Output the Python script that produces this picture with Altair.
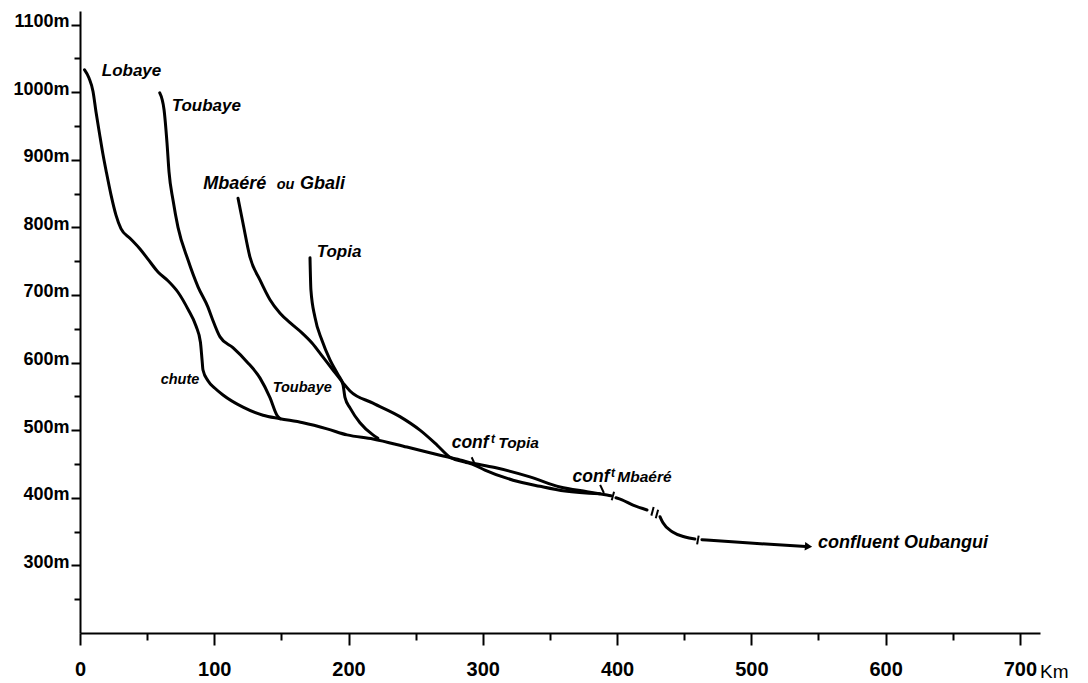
import altair as alt
import pandas as pd

# ---------------- data (km from Lobaye source, altitude in m) ----------------
# Lobaye: main river, drawn in four pieces separated by break marks
lobaye_1_km = [3.4, 6.7, 9.7, 11.9, 14.5, 17.1, 19.7, 23.1, 26.8, 30.5, 37.2, 44.7, 50.6,
               58.1, 65.5, 73.0, 80.4, 86.4, 89.7, 90.9, 91.6, 95.3, 100.5, 106.5, 121.4,
               136.3, 149.0, 166.1, 184.0, 198.9, 218.2, 243.5, 268.1, 283.0, 292.7, 310.6,
               335.1, 357.5, 377.6, 392.5, 395.5]
lobaye_1_m = [1033, 1021, 1001, 971, 939, 908, 881, 848, 818, 798, 784, 768, 753,
              734, 721, 704, 679, 654, 630, 604, 589, 573, 562, 552, 534,
              522, 517, 511, 502, 493, 487, 475, 463, 456, 451, 444,
              431, 416, 409, 404, 403]
lobaye_2_km = [399.2, 403.7, 411.9, 422.3]
lobaye_2_m = [400, 397, 389, 382]
lobaye_3_km = [432.0, 434.2, 441.7, 450.6, 458.0]
lobaye_3_m = [372, 363, 349, 342, 339]
lobaye_4_km = [463.2, 499.0, 540.7]
lobaye_4_m = [338, 333, 328]

toubaye_km = [59.4, 62.6, 64.8, 66.3, 69.3, 73.0, 80.4, 87.9, 95.3, 98.3, 104.3, 113.9,
              124.4, 134.1, 141.5, 146.7, 149.0]
toubaye_m = [999, 974, 925, 882, 840, 800, 752, 712, 682, 666, 638, 622,
             601, 577, 548, 522, 517]

mbaere_km = [117.7, 121.4, 126.6, 134.1, 141.5, 149.0, 156.4, 165.3, 172.8, 181.0, 188.4,
             195.9, 201.1, 218.2, 238.3, 253.2, 265.9, 275.6, 286.7, 294.2, 301.6, 322.5,
             342.6, 361.2, 387.3]
mbaere_m = [843, 806, 756, 722, 693, 673, 659, 644, 629, 608, 589,
            570, 558, 540, 520, 500, 478, 460, 453, 448, 441, 426,
            417, 410, 406]

topia_km = [171.3, 172.0, 175.0, 180.2, 186.2, 192.2, 195.9, 197.4, 201.1, 208.5, 218.2, 221.9]
topia_m = [755, 707, 667, 633, 604, 582, 567, 548, 533, 511, 493, 488]

# break / confluence marks on the profiles
mark_km = [396.9, 426.4, 429.7, 460.2, 293.1, 388.8]
mark_m = [402.6, 380, 376, 337.5, 454, 413]
mark_ang = [15, 15, 15, 10, 335, 335]

# arrow head at the Oubangui confluence
arrow_km = [542.6]
arrow_m = [328]

# labels
big_text = ["Lobaye", "Toubaye", "Topia"]
big_km = [16.2, 68.3, 176.3]
big_m = [1024, 972.5, 756.5]

large_text = ["Mbaéré", "Gbali", "confluent Oubangui"]
large_km = [91.8, 163.9, 549.6]
large_m = [856, 856, 325.7]

small_text = ["chute", "Toubaye", "ou"]
small_km = [60.1, 143.5, 146.5]
small_m = [568.3, 556.9, 856]

conf_text = ["conf", "conf"]
conf_km = [276.8, 366.9]
conf_m = [473.6, 423.8]

trib_text = ["Topia", "Mbaéré"]
trib_km = [311.5, 400.2]
trib_m = [473.6, 423.8]

sup_text = ["t", "t"]
sup_km = [306.1, 395.5]
sup_m = [481, 431.2]

unit_text = ["Km"]
unit_km = [715]
unit_m = [133.4]

x_ticks = list(range(0, 701, 50))
y_ticks = list(range(250, 1101, 50))

# ---------------- tables ----------------
rows = []
for name, ks, ms in [("lobaye1", lobaye_1_km, lobaye_1_m), ("lobaye2", lobaye_2_km, lobaye_2_m),
                     ("lobaye3", lobaye_3_km, lobaye_3_m), ("lobaye4", lobaye_4_km, lobaye_4_m),
                     ("toubaye", toubaye_km, toubaye_m), ("mbaere", mbaere_km, mbaere_m),
                     ("topia", topia_km, topia_m)]:
    for k, m in zip(ks, ms):
        rows.append({"seg": name, "km": k, "m": m})
lines_df = pd.DataFrame(rows)
marks_df = pd.DataFrame({"km": mark_km, "m": mark_m, "ang": mark_ang})
arrow_df = pd.DataFrame({"km": arrow_km, "m": arrow_m})


def tdf(ks, ms, ts):
    return pd.DataFrame({"km": ks, "m": ms, "t": ts})


SANS = "'Liberation Sans', Arial, sans-serif"

xaxis = alt.Axis(values=x_ticks, title=None, grid=False,
                 labelExpr="datum.value % 100 === 0 ? '' + datum.value : ''",
                 domainColor="black", domainWidth=2, tickColor="black", tickWidth=2,
                 tickSize={"condition": {"test": "datum.value % 100 === 0", "value": 12}, "value": 7},
                 labelFont=SANS, labelFontSize=20, labelFontWeight="bold", labelColor="black",
                 labelPadding=14, labelOverlap=False, labelFlush=False)
yaxis = alt.Axis(values=y_ticks, title=None, grid=False,
                 labelExpr="datum.value % 100 === 0 ? datum.value + 'm' : ''",
                 domainColor="black", domainWidth=2, tickColor="black", tickWidth=2,
                 tickSize={"condition": {"test": "datum.value % 100 === 0", "value": 9}, "value": 6},
                 labelFont=SANS, labelFontSize=18, labelFontWeight="bold", labelColor="black",
                 labelPadding=2, labelBaseline="alphabetic", labelOffset=2,
                 labelOverlap=False, labelFlush=False)

X = alt.X("km:Q", scale=alt.Scale(domain=[0, 715], nice=False, zero=False), axis=xaxis)
Y = alt.Y("m:Q", scale=alt.Scale(domain=[200, 1120], nice=False, zero=False), axis=yaxis)

lines = alt.Chart(lines_df).mark_line(
    color="black", strokeWidth=3, interpolate="monotone", strokeCap="round", strokeJoin="round"
).encode(x=X, y=Y, detail="seg:N", order="km:Q")

marks = alt.Chart(marks_df).mark_point(
    shape="M0,-1L0,1", filled=False, stroke="black", strokeWidth=2, size=80, opacity=1
).encode(x=X, y=Y, angle=alt.Angle("ang:Q", scale=None))

arrow = alt.Chart(arrow_df).mark_point(
    shape="triangle-right", filled=True, color="black", size=70, angle=4, opacity=1
).encode(x=X, y=Y)


def text_layer(df, size, style="italic", weight="bold"):
    return alt.Chart(df).mark_text(
        align="left", baseline="alphabetic", font=SANS, fontSize=size,
        fontStyle=style, fontWeight=weight, color="black"
    ).encode(x=X, y=Y, text="t:N")


chart = alt.layer(
    lines, marks, arrow,
    text_layer(tdf(big_km, big_m, big_text), 17),
    text_layer(tdf(large_km, large_m, large_text), 18),
    text_layer(tdf(small_km, small_m, small_text), 14.5),
    text_layer(tdf(conf_km, conf_m, conf_text), 17.5),
    text_layer(tdf(trib_km, trib_m, trib_text), 15.5),
    text_layer(tdf(sup_km, sup_m, sup_text), 12),
    text_layer(tdf(unit_km, unit_m, unit_text), 19, style="normal", weight="normal"),
).properties(
    width=960, height=622,
    padding={"left": 72, "top": 3, "right": 40, "bottom": 50},
    autosize=alt.AutoSizeParams(type="none"),
    background="white",
).configure_view(stroke=None)

chart.save("out.html", embed_options={"renderer": "svg", "actions": False})
